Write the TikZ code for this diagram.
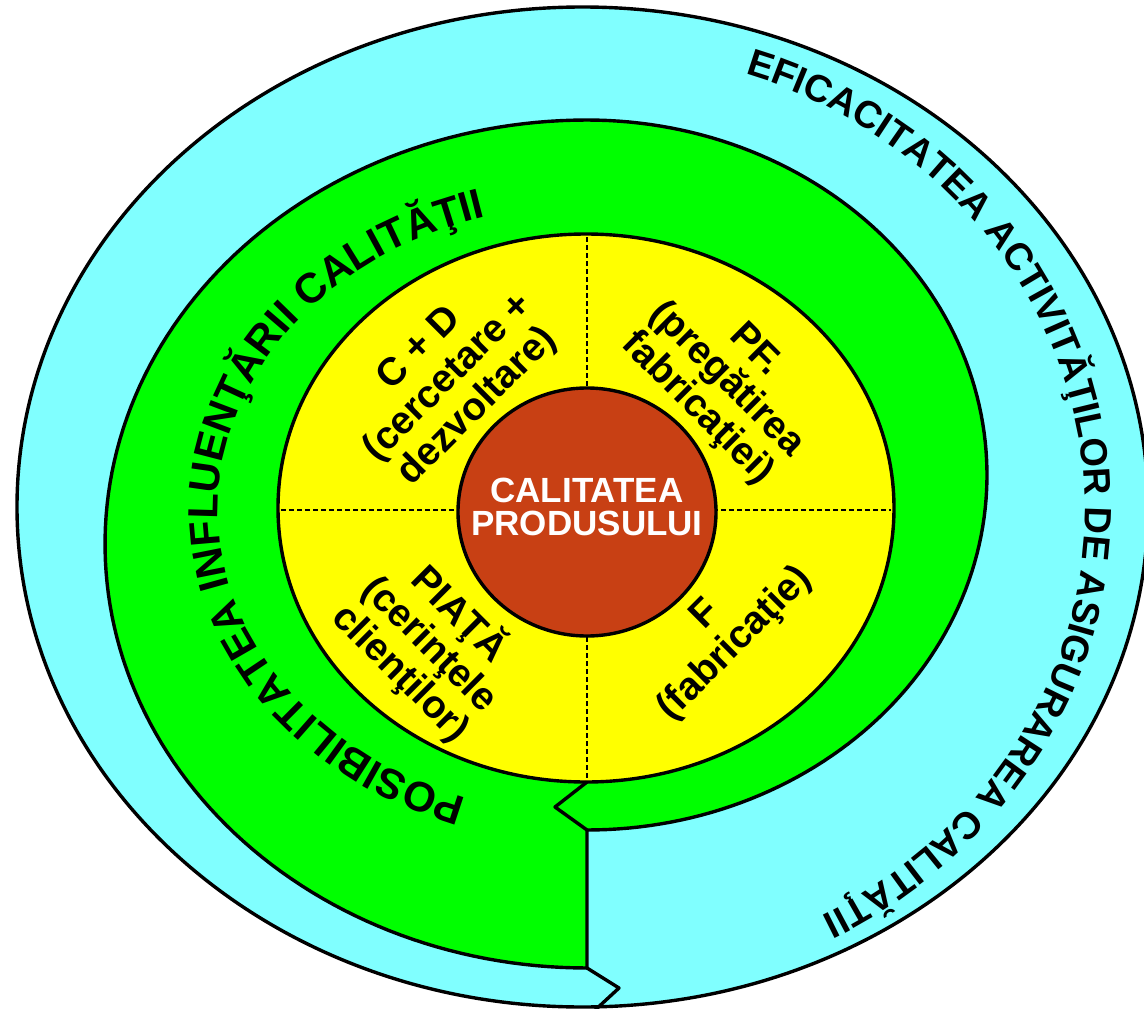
\documentclass[tikz,border=0pt]{standalone}
\usepackage{fontspec}
\setmainfont{Liberation Sans}
\usetikzlibrary{decorations.text}
\definecolor{ringcyan}{RGB}{128,255,255}
\definecolor{ringgreen}{RGB}{0,255,0}
\definecolor{coreyellow}{RGB}{255,255,0}
\definecolor{corered}{RGB}{200,64,20}
\begin{document}
\begin{tikzpicture}[x=1pt,y=-1pt,line join=round,
  outline/.style={draw=black,line width=3.4pt},
  sector/.style={font=\fontsize{39}{41}\selectfont\bfseries,align=center,inner sep=0pt},
  divider/.style={draw=black,line width=1.1pt,dash pattern=on 5pt off 3pt}]
\useasboundingbox (0,0) rectangle (1144,1009);

% outer band (cyan)
\path[outline,fill=ringcyan] (582.5,507) ellipse [x radius=565.5,y radius=500];

% spiral band (green): right half-turn, then a wider left half-turn
\coordinate (gstart) at (587,830);
\coordinate (gend) at (587,968);
\path[outline,fill=ringgreen]
  plot[domain=90:-90,samples=120,variable=\t] ({587+400*cos(\t)},{475+355*sin(\t)})
  -- plot[domain=-90:-270,samples=120,variable=\t] ({587+482*cos(\t)},{544+424*sin(\t)})
  -- cycle;

% inner disc (yellow) with its quadrant dividers
\path[outline,fill=coreyellow] (586,508) ellipse [x radius=308,y radius=274];
\draw[divider] (587,237) -- (587,780);
\draw[divider] (281,510) -- (891,510);

% spiral start marks
\coordinate (ytip) at (587,782);
\coordinate (gtip) at (555,807);
\coordinate (ctip) at (619,988);
\coordinate (cend) at (593,1012);
\draw[outline] (ytip) -- (gtip) -- (gstart);
\draw[outline] (gend) -- (ctip) -- (cend);

% core
\path[outline,fill=corered] (587,512) ellipse [x radius=129,y radius=124];
\node[text=white,font=\fontsize{35}{33}\selectfont\bfseries,align=center,inner sep=0pt]
  (core) at (587,507) {CALITATEA\\PRODUSULUI};

% quadrant labels
\node[sector,rotate=45]  (cd)    at (449,378) {C + D\\(cercetare +\\dezvoltare)};
\node[sector,rotate=-45] (pf)    at (726,380) {PF.\\(pregătirea\\fabricaţiei)};
\node[sector,rotate=-45] (piata) at (431,643) {PIAŢĂ\\(cerinţele\\clienţilor)};
\node[sector,rotate=45]  (fab)   at (721,630) {F\\(fabricaţie)};

% curved captions
\path[decorate,decoration={text along path,text align=left,
  text={|\fontsize{42}{42}\selectfont\bfseries|POSIBILITATEA INFLUENŢĂRII CALITĂŢII}}]
  plot[domain=109:268,samples=90,variable=\t] ({587+369*cos(\t)},{510+305*sin(\t)});
\path[decorate,decoration={text along path,text align=left,
  text={|\fontsize{38}{38}\selectfont\bfseries|EFICACITATEA ACTIVITĂŢILOR DE ASIGURAREA CALITĂŢII}}]
  plot[domain=-71.5:72,samples=90,variable=\t] ({587+498*cos(\t)},{510+460*sin(\t)});
\end{tikzpicture}
\end{document}
